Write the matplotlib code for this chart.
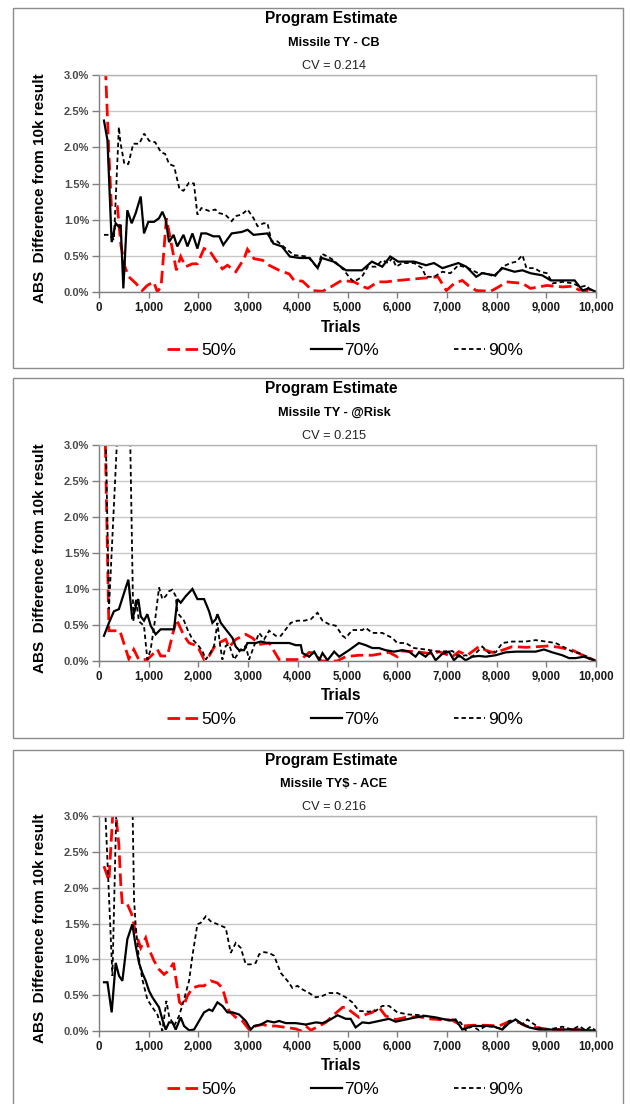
import numpy as np
import matplotlib
matplotlib.use("Agg")
import matplotlib.pyplot as plt
from matplotlib.patches import Rectangle
from matplotlib.ticker import FuncFormatter

plt.rcParams['font.family'] = ['Liberation Sans', 'DejaVu Sans']
plt.rcParams['lines.scale_dashes'] = False

# ---------------- data (percent difference vs trials) ----------------
series_labels = ["50%", "70%", "90%"]
panel_titles = ["Missile TY - CB", "Missile TY - @Risk", "Missile TY$ - ACE"]
panel_cv = ["CV = 0.214", "CV = 0.215", "CV = 0.216"]
x_ticks = [0, 1000, 2000, 3000, 4000, 5000, 6000, 7000, 8000, 9000, 10000]
y_ticks = [0.0, 0.5, 1.0, 1.5, 2.0, 2.5, 3.0]

# Panel 1: Missile TY - CB
p1_x50 = [100, 200, 250, 370, 440, 520, 600, 740, 870, 970, 1100, 1175, 1250, 1356, 1557, 1644, 1745,
          1880, 1980, 2114, 2215, 2349, 2483, 2584, 2752, 2919, 2987, 3120, 3289, 3423, 3624, 3826,
          3926, 4094, 4295, 4497, 4664, 4832, 4890, 5130, 5330, 5410, 5610, 5780, 6020, 6500, 6820,
          6990, 7150, 7310, 7430, 7590, 7880, 8040, 8200, 8520, 8680, 9010, 9330, 9530, 9650, 10000]
p1_y50 = [3.6, 1.9, 1.18, 1.18, 0.65, 0.35, 0.21, 0.12, 0.02, 0.09, 0.14, 0.0, 0.08, 1.02, 0.30, 0.49, 0.35,
          0.39, 0.39, 0.60, 0.58, 0.44, 0.32, 0.37, 0.28, 0.46, 0.59, 0.46, 0.44, 0.37, 0.30, 0.25,
          0.16, 0.15, 0.02, 0.01, 0.07, 0.14, 0.16, 0.14, 0.07, 0.05, 0.14, 0.14, 0.16, 0.19, 0.21,
          0.02, 0.12, 0.16, 0.09, 0.02, 0.01, 0.07, 0.14, 0.12, 0.05, 0.09, 0.07, 0.08, 0.03, 0.0]

p1_x70 = [100, 170, 255, 336, 403, 436, 490, 570, 658, 738, 839, 906, 993, 1107, 1208, 1275, 1342, 1409,
          1500, 1575, 1700, 1780, 1880, 1980, 2060, 2160, 2300, 2420, 2500, 2670, 2870, 2990, 3110,
          3390, 3510, 3680, 3840, 4040, 4240, 4400, 4480, 4720, 4970, 5290, 5490, 5700, 5860, 6020,
          6340, 6580, 6740, 6910, 7230, 7390, 7590, 7710, 7960, 8120, 8360, 8520, 8680, 8920, 9090,
          9570, 9730, 9850, 10000]
p1_y70 = [2.37, 2.1, 0.69, 0.95, 0.90, 0.93, 0.05, 1.13, 0.95, 1.09, 1.32, 0.81, 0.97, 0.97, 1.02, 1.11, 1.0, 0.69,
          0.79, 0.63, 0.79, 0.63, 0.81, 0.60, 0.81, 0.81, 0.77, 0.77, 0.65, 0.81, 0.83, 0.86, 0.79,
          0.81, 0.67, 0.63, 0.49, 0.47, 0.47, 0.33, 0.47, 0.42, 0.30, 0.30, 0.42, 0.35, 0.49, 0.42,
          0.42, 0.37, 0.40, 0.33, 0.40, 0.35, 0.21, 0.26, 0.23, 0.33, 0.28, 0.30, 0.26, 0.23, 0.16,
          0.16, 0.02, 0.05, 0.0]

p1_x90 = [100, 200, 300, 400, 430, 510, 590, 690, 810, 910, 1010, 1130, 1250, 1330, 1410, 1510, 1620, 1700,
          1810, 1910, 1980, 2060, 2220, 2340, 2420, 2540, 2670, 2750, 2870, 2990, 3110, 3190, 3310,
          3390, 3470, 3590, 3760, 3920, 4200, 4400, 4480, 4600, 4720, 4930, 5050, 5130, 5290, 5410,
          5570, 5700, 5820, 5900, 5980, 6100, 6340, 6500, 6580, 6740, 6910, 7070, 7230, 7430, 7630,
          7790, 7960, 8120, 8280, 8400, 8520, 8600, 8760, 8880, 9010, 9130, 9330, 9530, 9690, 9810,
          9890, 10000]
p1_y90 = [0.79, 0.79, 0.72, 2.28, 2.07, 1.77, 1.77, 2.05, 2.05, 2.19, 2.09, 2.07, 1.93, 1.91, 1.77, 1.74, 1.42, 1.40,
          1.51, 1.50, 1.07, 1.16, 1.12, 1.14, 1.09, 1.07, 0.98, 1.05, 1.07, 1.14, 1.02, 0.91, 0.95,
          0.95, 0.70, 0.70, 0.60, 0.51, 0.49, 0.33, 0.53, 0.49, 0.44, 0.30, 0.19, 0.14, 0.21, 0.35,
          0.35, 0.44, 0.40, 0.47, 0.35, 0.40, 0.40, 0.33, 0.21, 0.21, 0.28, 0.26, 0.37, 0.33, 0.26,
          0.26, 0.21, 0.35, 0.40, 0.42, 0.51, 0.33, 0.33, 0.28, 0.26, 0.12, 0.14, 0.12, 0.07, 0.09,
          0.02, 0.0]

# Panel 2: Missile TY - @Risk
p2_x50 = [100, 200, 420, 600, 700, 800, 975, 1175, 1240, 1375, 1557, 1711, 1812, 1980, 2114, 2215, 2349,
          2550, 2617, 2752, 2953, 3087, 3221, 3423, 3624, 4060, 4230, 4330, 4470, 4790, 4963, 5230,
          5500, 5835, 6000, 6070, 6370, 6707, 6840, 7110, 7243, 7410, 7646, 7780, 7914, 8115, 8317,
          8585, 8853, 9054, 9255, 9524, 9792, 10000]
p2_y50 = [4.0, 0.42, 0.42, 0.03, 0.16, 0.02, 0.02, 0.16, 0.07, 0.07, 0.58, 0.35, 0.25, 0.21, 0.02, 0.07, 0.23,
          0.30, 0.19, 0.30, 0.37, 0.32, 0.23, 0.25, 0.02, 0.02, 0.12, 0.11, 0.0, 0.0, 0.06, 0.08,
          0.08, 0.12, 0.06, 0.14, 0.13, 0.10, 0.13, 0.06, 0.13, 0.08, 0.20, 0.15, 0.12, 0.15, 0.20,
          0.19, 0.20, 0.21, 0.19, 0.15, 0.06, 0.0]

p2_x70 = [100, 200, 300, 400, 590, 670, 740, 790, 840, 905, 973, 1040, 1140, 1240, 1510, 1577, 1644, 1745,
          1880, 1980, 2114, 2215, 2282, 2349, 2383, 2450, 2550, 2685, 2752, 2819, 2919, 2987, 3154,
          3255, 3389, 3557, 3826, 3960, 4060, 4094, 4228, 4329, 4430, 4497, 4597, 4732, 4832, 4963,
          5030, 5230, 5366, 5500, 5634, 5768, 5935, 6103, 6237, 6370, 6437, 6571, 6672, 6773, 6907,
          7041, 7142, 7243, 7377, 7512, 7646, 7780, 7981, 8182, 8383, 8786, 8953, 9121, 9322, 9457,
          9591, 9758, 10000]
p2_y70 = [0.35, 0.53, 0.69, 0.72, 1.13, 0.58, 0.76, 0.86, 0.62, 0.56, 0.65, 0.49, 0.37, 0.44, 0.44, 0.86, 0.81, 0.90,
          1.00, 0.86, 0.86, 0.69, 0.53, 0.58, 0.65, 0.53, 0.44, 0.32, 0.20, 0.15, 0.15, 0.25, 0.25,
          0.27, 0.25, 0.25, 0.25, 0.22, 0.22, 0.11, 0.06, 0.13, 0.01, 0.11, 0.01, 0.13, 0.06, 0.12,
          0.15, 0.25, 0.22, 0.18, 0.18, 0.15, 0.13, 0.15, 0.13, 0.06, 0.12, 0.06, 0.13, 0.01, 0.10,
          0.13, 0.01, 0.08, 0.01, 0.06, 0.07, 0.06, 0.08, 0.12, 0.13, 0.13, 0.16, 0.12, 0.08, 0.04,
          0.04, 0.06, 0.0]

p2_x90 = [100, 200, 400, 600, 690, 740, 805, 905, 973, 1040, 1140, 1208, 1275, 1342, 1410, 1477, 1544, 1577,
          1711, 1779, 1880, 1980, 2081, 2148, 2248, 2315, 2383, 2430, 2483, 2550, 2617, 2718, 2852,
          2953, 3020, 3120, 3221, 3322, 3423, 3557, 3658, 3758, 3859, 3993, 4127, 4262, 4396, 4497,
          4631, 4765, 4899, 4963, 5097, 5298, 5366, 5500, 5700, 5902, 6002, 6170, 6338, 6571, 6840,
          7108, 7243, 7377, 7512, 7713, 7847, 7981, 8115, 8317, 8585, 8786, 8987, 9188, 9389, 9524,
          9658, 9825, 10000]
p2_y90 = [4.5, 0.72, 3.6, 4.2, 0.55, 0.86, 0.55, 0.49, 0.02, 0.16, 0.63, 1.02, 0.86, 0.90, 0.97, 0.99, 0.90, 0.67,
          0.56, 0.44, 0.30, 0.23, 0.14, 0.02, 0.12, 0.21, 0.53, 0.25, 0.02, 0.21, 0.23, 0.02, 0.16,
          0.21, 0.02, 0.21, 0.39, 0.30, 0.42, 0.35, 0.35, 0.44, 0.53, 0.56, 0.56, 0.58, 0.67, 0.56,
          0.51, 0.49, 0.35, 0.32, 0.43, 0.43, 0.46, 0.39, 0.39, 0.32, 0.25, 0.25, 0.18, 0.16, 0.13,
          0.14, 0.06, 0.08, 0.06, 0.20, 0.11, 0.12, 0.25, 0.27, 0.27, 0.29, 0.27, 0.25, 0.18, 0.13,
          0.11, 0.06, 0.0]

# Panel 3: Missile TY$ - ACE
p3_x50 = [100, 200, 300, 400, 440, 470, 570, 658, 738, 839, 940, 1007, 1107, 1208, 1309, 1400, 1500, 1620,
          1700, 1780, 1880, 2013, 2114, 2248, 2383, 2483, 2550, 2617, 2752, 2886, 3020, 3154, 3289,
          3423, 3557, 3758, 3960, 4060, 4161, 4262, 4430, 4564, 4698, 4899, 4963, 5097, 5230, 5366,
          5500, 5634, 5768, 5969, 6170, 6438, 6640, 6840, 7108, 7310, 7512, 7780, 8048, 8250, 8450,
          8585, 8786, 8987, 9255, 9524, 9792, 10000]
p3_y50 = [2.30, 2.10, 3.3, 2.6, 2.02, 1.77, 1.77, 1.63, 1.37, 1.16, 1.30, 1.14, 0.98, 0.86, 0.79, 0.84, 0.95, 0.40,
          0.35, 0.49, 0.60, 0.63, 0.63, 0.70, 0.67, 0.60, 0.44, 0.28, 0.19, 0.14, 0.02, 0.07, 0.09,
          0.07, 0.07, 0.05, 0.03, 0.0, 0.07, 0.01, 0.07, 0.12, 0.21, 0.33, 0.33, 0.26, 0.19, 0.23,
          0.26, 0.33, 0.21, 0.16, 0.19, 0.20, 0.17, 0.16, 0.15, 0.07, 0.08, 0.08, 0.07, 0.13, 0.12,
          0.07, 0.05, 0.03, 0.02, 0.02, 0.01, 0.0]

p3_x70 = [100, 170, 255, 336, 403, 470, 570, 671, 738, 805, 872, 940, 1007, 1074, 1141, 1208, 1275, 1342,
          1409, 1477, 1544, 1644, 1711, 1812, 1913, 2013, 2114, 2215, 2282, 2383, 2483, 2584, 2685,
          2819, 2953, 3054, 3121, 3255, 3389, 3523, 3624, 3758, 3960, 4161, 4362, 4497, 4631, 4799,
          4966, 5063, 5163, 5298, 5433, 5634, 5835, 5969, 6170, 6370, 6571, 6773, 7041, 7175, 7310,
          7512, 7914, 8115, 8250, 8383, 8484, 8652, 8853, 9658, 10000]
p3_y70 = [0.68, 0.68, 0.26, 0.95, 0.77, 0.70, 1.28, 1.49, 1.19, 0.95, 0.81, 0.70, 0.56, 0.47, 0.40, 0.33, 0.16, 0.02,
          0.12, 0.12, 0.02, 0.19, 0.07, 0.01, 0.02, 0.14, 0.26, 0.30, 0.28, 0.40, 0.35, 0.26, 0.26,
          0.23, 0.14, 0.02, 0.07, 0.09, 0.14, 0.12, 0.14, 0.11, 0.11, 0.09, 0.12, 0.11, 0.15, 0.22,
          0.17, 0.17, 0.05, 0.12, 0.11, 0.14, 0.17, 0.13, 0.16, 0.19, 0.21, 0.19, 0.15, 0.16, 0.02,
          0.07, 0.07, 0.02, 0.11, 0.16, 0.11, 0.05, 0.02, 0.02, 0.0]

p3_x90 = [100, 270, 380, 650, 705, 738, 805, 872, 973, 1074, 1175, 1275, 1356, 1409, 1510, 1611, 1711, 1812,
          1880, 1980, 2047, 2148, 2248, 2383, 2550, 2651, 2752, 2852, 2953, 3054, 3154, 3221, 3322,
          3423, 3523, 3658, 3792, 3893, 3993, 4094, 4228, 4362, 4497, 4631, 4799, 4966, 5097, 5230,
          5433, 5567, 5700, 5835, 6002, 6237, 6504, 6706, 6907, 7108, 7276, 7377, 7512, 7646, 7780,
          7981, 8115, 8250, 8383, 8517, 8618, 8786, 8920, 9121, 9322, 9524, 9658, 9792, 9893, 10000]
p3_y90 = [3.5, 0.77, 4.0, 4.2, 1.84, 1.47, 1.00, 0.72, 0.44, 0.33, 0.23, 0.0, 0.42, 0.21, 0.07, 0.21, 0.44, 0.70,
          1.05, 1.49, 1.51, 1.60, 1.53, 1.49, 1.44, 1.09, 1.23, 1.16, 0.93, 0.93, 0.95, 1.07, 1.10,
          1.09, 1.05, 0.81, 0.70, 0.60, 0.63, 0.58, 0.53, 0.47, 0.49, 0.53, 0.53, 0.47, 0.40, 0.28,
          0.27, 0.28, 0.35, 0.35, 0.26, 0.23, 0.22, 0.19, 0.16, 0.16, 0.12, 0.01, 0.07, 0.01, 0.07,
          0.05, 0.03, 0.14, 0.16, 0.09, 0.16, 0.08, 0.02, 0.03, 0.06, 0.02, 0.07, 0.01, 0.06, 0.0]

panels = [
    ((p1_x50, p1_y50), (p1_x70, p1_y70), (p1_x90, p1_y90)),
    ((p2_x50, p2_y50), (p2_x70, p2_y70), (p2_x90, p2_y90)),
    ((p3_x50, p3_y50), (p3_x70, p3_y70), (p3_x90, p3_y90)),
]

# ---------------- styling ----------------
W, H = 630, 1104
styles = [
    dict(color='#ff0000', lw=2.0, dashes=(9, 4)),
    dict(color='#000000', lw=1.6, dashes=None),
    dict(color='#000000', lw=1.3, dashes=(3.2, 2.2)),
]

fig = plt.figure(figsize=(W / 100, H / 100), dpi=100)
fig.patch.set_facecolor('white')

# (axes top px, axes bottom px, panel box top px, panel box bottom px)
layout = [(75, 292, 8, 368), (445, 661, 378, 738), (816, 1031, 750, 1112)]


def fx(px):
    return px / W


def fy(py):
    return 1 - py / H


for i, (top, bot, btop, bbot) in enumerate(layout):
    # panel frame
    fig.patches.append(Rectangle((fx(13), fy(bbot)), fx(623) - fx(13), fy(btop) - fy(bbot),
                                 transform=fig.transFigure, fill=False,
                                 edgecolor='#8c8c8c', lw=1.0, zorder=0))
    ax = fig.add_axes([fx(99), fy(bot), fx(596) - fx(99), fy(top) - fy(bot)])
    handles = []
    for (xs, ys), lab, st in zip(panels[i], series_labels, styles):
        assert len(xs) == len(ys)
        ln, = ax.plot(xs, ys, color=st['color'], lw=st['lw'], label=lab,
                      solid_joinstyle='miter', dash_joinstyle='miter')
        if st['dashes']:
            ln.set_dashes(st['dashes'])
        handles.append(ln)
    ax.set_xlim(0, 10000)
    ax.set_ylim(0, 3.0)
    ax.set_xticks(x_ticks)
    ax.set_yticks(y_ticks)
    ax.xaxis.set_major_formatter(FuncFormatter(lambda v, p: f"{int(v):,}"))
    ax.yaxis.set_major_formatter(FuncFormatter(lambda v, p: f"{v:.1f}%"))
    ax.grid(axis='y', color='#c8c8c8', lw=1.0)
    ax.set_axisbelow(True)
    for s in ['left', 'bottom']:
        ax.spines[s].set_color('#7f7f7f')
        ax.spines[s].set_linewidth(1.0)
    for s in ['top', 'right']:
        ax.spines[s].set_color('#b4b4b4')
        ax.spines[s].set_linewidth(1.0)
    ax.tick_params(axis='y', direction='out', length=5, width=1, color='#7f7f7f',
                   labelsize=8, labelcolor='#4a4a4a', pad=2)
    ax.tick_params(axis='x', direction='out', length=4, width=1, color='#7f7f7f',
                   labelsize=8.3, labelcolor='#1a1a1a', pad=3)
    for t in ax.get_xticklabels():
        t.set_fontweight('bold')
    for t in ax.get_yticklabels():
        t.set_fontweight('bold')

    # titles
    fig.text(fx(331), fy(top - 56), "Program Estimate", ha='center', va='center',
             fontsize=11.2, fontweight='bold')
    fig.text(fx(334), fy(top - 32), panel_titles[i], ha='center', va='center',
             fontsize=9.2, fontweight='bold')
    fig.text(fx(334), fy(top - 9), panel_cv[i], ha='center', va='center', fontsize=9.2,
             color='#222222')
    fig.text(fx(341), fy(bot + 35), "Trials", ha='center', va='center',
             fontsize=11.2, fontweight='bold')
    fig.text(fx(40), fy((top + bot) / 2 + 5), "ABS  Difference from 10k result", rotation=90,
             ha='center', va='center', fontsize=11, fontweight='bold')

    ax.legend(handles=handles, loc='center', bbox_to_anchor=(0.495, -58 / (bot - top)),
              ncol=3, frameon=False, fontsize=12.5, handlelength=1.8, handletextpad=0.15,
              columnspacing=4.3, borderaxespad=0)

fig.savefig("out.png", dpi=100, facecolor='white')
